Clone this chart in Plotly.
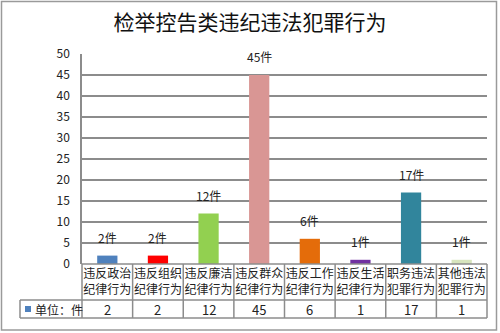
import plotly.graph_objects as go

categories = ["违反政治<br>纪律行为", "违反组织<br>纪律行为", "违反廉洁<br>纪律行为", "违反群众<br>纪律行为",
              "违反工作<br>纪律行为", "违反生活<br>纪律行为", "职务违法<br>犯罪行为", "其他违法<br>犯罪行为"]
values = [2, 2, 12, 45, 6, 1, 17, 1]
bar_colors = ["#4F81BD", "#FF0000", "#92D050", "#D99694", "#E46C0A", "#7030A0", "#31859C", "#D7E4BD"]
unit_label = "单位：件"
title_text = "检举控告类违纪违法犯罪行为"

FONT = "Noto Sans CJK SC"
W, H = 500, 333
L, R, T, B = 82, 13, 54, 69
PW, PH = W - L - R, H - T - B


def px_x(px):
    return (px - L) / PW


def px_y(py):
    return (H - B - py) / PH


n = len(categories)
xs = list(range(n))

fig = go.Figure()
fig.add_bar(x=xs, y=values, marker=dict(color=bar_colors, line=dict(width=0)), width=0.4)

annotations = []
# value labels above the bars
for x, v in zip(xs, values):
    annotations.append(dict(x=x, y=v, xref="x", yref="y", text=f"{v}件", showarrow=False,
                            yanchor="bottom", yshift=8, font=dict(family=FONT, size=12, color="#222")))

grid = "#8c8c8c"
shapes = []
row1_bottom = px_y(300)
row2_bottom = px_y(318)
# table horizontal lines
shapes.append(dict(type="line", xref="paper", yref="paper", x0=0, x1=1, y0=0, y1=0, line=dict(color=grid, width=1.5)))
shapes.append(dict(type="line", xref="paper", yref="paper", x0=px_x(20), x1=1, y0=row1_bottom, y1=row1_bottom, line=dict(color=grid, width=1.5)))
shapes.append(dict(type="line", xref="paper", yref="paper", x0=px_x(20), x1=1, y0=row2_bottom, y1=row2_bottom, line=dict(color=grid, width=1.5)))
# table vertical lines
shapes.append(dict(type="line", xref="paper", yref="paper", x0=px_x(20), x1=px_x(20), y0=row1_bottom, y1=row2_bottom, line=dict(color=grid, width=1.5)))
for k in range(n + 1):
    xp = k / n
    shapes.append(dict(type="line", xref="paper", yref="paper", x0=xp, x1=xp, y0=0, y1=row2_bottom, line=dict(color=grid, width=1.5)))
# legend key square
shapes.append(dict(type="rect", xref="paper", yref="paper", x0=px_x(25), x1=px_x(31), y0=px_y(306), y1=px_y(312),
                   fillcolor="#4F81BD", line=dict(width=0)))
# outer frame
shapes.append(dict(type="rect", xref="paper", yref="paper", x0=px_x(1.5), x1=px_x(496.5), y0=px_y(1.5), y1=px_y(330),
                   line=dict(color="#9a9a9a", width=1.5)))

# value row of the data table
for x, v in zip(xs, values):
    annotations.append(dict(x=x, y=(row1_bottom + row2_bottom) / 2, xref="x", yref="paper", text=str(v),
                            showarrow=False, font=dict(family=FONT, size=13, color="#222"), yanchor="middle"))
annotations.append(dict(x=px_x(33), y=(row1_bottom + row2_bottom) / 2, xref="paper", yref="paper", text=unit_label,
                        showarrow=False, xanchor="left", font=dict(family=FONT, size=12, color="#222"), yanchor="middle"))

fig.update_layout(
    width=W, height=H,
    margin=dict(l=L, r=R, t=T, b=B),
    paper_bgcolor="white", plot_bgcolor="white",
    showlegend=False,
    title=dict(text=title_text, x=0.5, xref="container", xanchor="center", y=1 - 23 / H, yref="container",
               yanchor="middle", font=dict(family=FONT, size=21, color="#111")),
    annotations=annotations,
    shapes=shapes,
    xaxis=dict(range=[-0.5, n - 0.5], tickvals=xs, ticktext=categories, showgrid=False, zeroline=False,
               showline=False, ticks="", ticklabelstandoff=1,
               tickfont=dict(family=FONT, size=12, color="#222"), fixedrange=True),
    yaxis=dict(range=[0, 50], dtick=5, showgrid=True, gridcolor=grid, gridwidth=1.5, zeroline=False,
               showline=True, linecolor=grid, linewidth=1.5,
               tickfont=dict(family=FONT, size=12, color="#222"), ticks="", ticklabelstandoff=8),
    bargap=0.6,
)

fig.write_html("out.html")
